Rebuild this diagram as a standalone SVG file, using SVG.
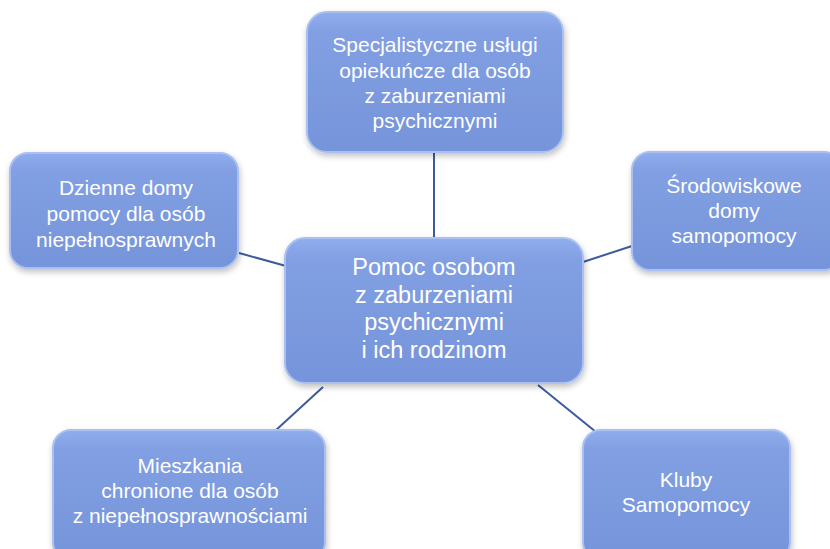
<svg xmlns="http://www.w3.org/2000/svg" width="830" height="549" viewBox="0 0 830 549">
<defs>
<linearGradient id="g" x1="0" y1="0" x2="0" y2="1">
<stop offset="0" stop-color="#90aeee"/>
<stop offset="0.15" stop-color="#819fe2"/>
<stop offset="1" stop-color="#7694da"/>
</linearGradient>
<filter id="sh" x="-10%" y="-10%" width="120%" height="130%">
<feGaussianBlur in="SourceAlpha" stdDeviation="3"/>
<feOffset dx="1" dy="3" result="b"/>
<feComponentTransfer><feFuncA type="linear" slope="0.25"/></feComponentTransfer>
<feMerge><feMergeNode/><feMergeNode in="SourceGraphic"/></feMerge>
</filter>
</defs>
<style>
.box{fill:url(#g);stroke:#a9c0f0;stroke-width:2;filter:url(#sh)}
.t{font-family:"Liberation Sans",Arial,sans-serif;font-size:21px;fill:#ffffff;text-anchor:middle}
.tc{font-size:23.5px}
.c{stroke:#3b5c9c;stroke-width:2;fill:none}
</style>
<g id="connectors">
<line class="c" x1="434" y1="152" x2="434" y2="238"/>
<line class="c" x1="239" y1="253" x2="286" y2="266"/>
<line class="c" x1="583" y1="262" x2="632" y2="246"/>
<line class="c" x1="323" y1="387" x2="275" y2="431"/>
<line class="c" x1="538" y1="385" x2="596" y2="432"/>
</g>
<g id="center">
<rect class="box" x="285" y="238" width="298" height="145" rx="20"/>
<text class="t tc" x="434" y="275">Pomoc osobom</text>
<text class="t tc" x="434" y="303">z zaburzeniami</text>
<text class="t tc" x="434" y="330">psychicznymi</text>
<text class="t tc" x="434" y="358">i ich rodzinom</text>
</g>
<g id="top">
<rect class="box" x="307" y="12" width="256" height="140" rx="20"/>
<text class="t" x="435" y="52">Specjalistyczne usługi</text>
<text class="t" x="435" y="78">opiekuńcze dla osób</text>
<text class="t" x="435" y="103">z zaburzeniami</text>
<text class="t" x="435" y="128">psychicznymi</text>
</g>
<g id="left">
<rect class="box" x="10" y="153" width="228" height="115" rx="18"/>
<text class="t" x="126" y="195">Dzienne domy</text>
<text class="t" x="126" y="221">pomocy dla osób</text>
<text class="t" x="126" y="247">niepełnosprawnych</text>
</g>
<g id="right">
<rect class="box" x="632" y="152" width="210" height="118" rx="18"/>
<text class="t" x="734" y="193">Środowiskowe</text>
<text class="t" x="734" y="218">domy</text>
<text class="t" x="734" y="243">samopomocy</text>
</g>
<g id="bottom-left">
<rect class="box" x="53" y="430" width="272" height="130" rx="18"/>
<text class="t" x="190" y="473">Mieszkania</text>
<text class="t" x="190" y="498">chronione dla osób</text>
<text class="t" x="190" y="523">z niepełnosprawnościami</text>
</g>
<g id="bottom-right">
<rect class="box" x="583" y="430" width="207" height="130" rx="18"/>
<text class="t" x="686" y="487">Kluby</text>
<text class="t" x="686" y="512">Samopomocy</text>
</g>
</svg>
